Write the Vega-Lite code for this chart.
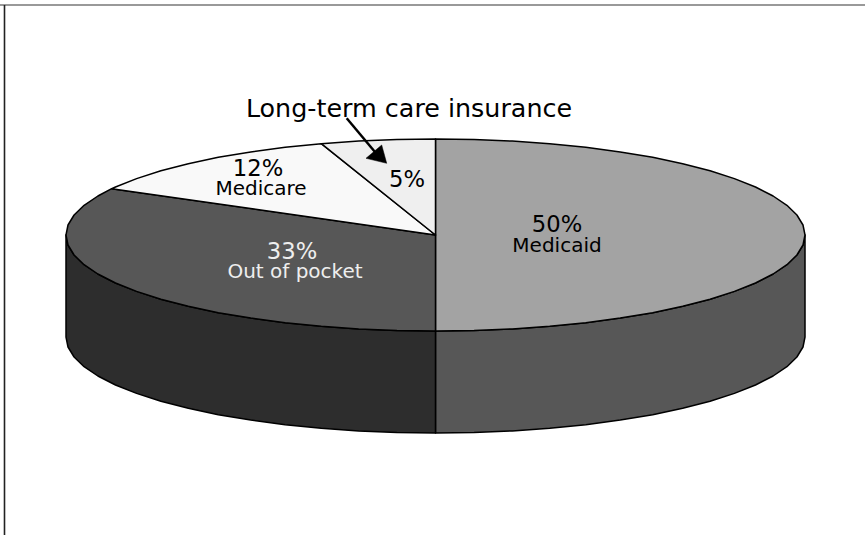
{
  "$schema": "https://vega.github.io/schema/vega-lite/v6.json",
  "width": 865,
  "height": 535,
  "padding": 0,
  "autosize": {"type": "none"},
  "background": "white",
  "view": {"stroke": null},
  "datasets": {
    "frame": [
      {"x": 0, "y": 5, "x2": 865, "y2": 5, "edge": "top"},
      {"x": 4.5, "y": 5, "x2": 4.5, "y2": 535, "edge": "left"}
    ],
    "pie": [
      {"s":"sideRight","i":0,"x":805,"y":235},{"s":"sideRight","i":1,"x":803,"y":245},{"s":"sideRight","i":2,"x":796.9,"y":255},{"s":"sideRight","i":3,"x":786.9,"y":264.7},{"s":"sideRight","i":4,"x":773.1,"y":274},{"s":"sideRight","i":5,"x":755.5,"y":283},{"s":"sideRight","i":6,"x":734.4,"y":291.4},{"s":"sideRight","i":7,"x":710.1,"y":299.2},{"s":"sideRight","i":8,"x":682.7,"y":306.3},{"s":"sideRight","i":9,"x":652.7,"y":312.7},{"s":"sideRight","i":10,"x":620.25,"y":318.1},{"s":"sideRight","i":11,"x":585.8,"y":322.7},{"s":"sideRight","i":12,"x":549.7,"y":326.3},{"s":"sideRight","i":13,"x":512.3,"y":328.9},{"s":"sideRight","i":14,"x":474.1,"y":330.5},{"s":"sideRight","i":15,"x":435.5,"y":331},
      {"s":"sideRight","i":16,"x":435.5,"y":433},{"s":"sideRight","i":17,"x":474.1,"y":432.5},{"s":"sideRight","i":18,"x":512.3,"y":430.9},{"s":"sideRight","i":19,"x":549.7,"y":428.3},{"s":"sideRight","i":20,"x":585.8,"y":424.7},{"s":"sideRight","i":21,"x":620.25,"y":420.1},{"s":"sideRight","i":22,"x":652.7,"y":414.7},{"s":"sideRight","i":23,"x":682.7,"y":408.3},{"s":"sideRight","i":24,"x":710.1,"y":401.2},{"s":"sideRight","i":25,"x":734.4,"y":393.4},{"s":"sideRight","i":26,"x":755.5,"y":385},{"s":"sideRight","i":27,"x":773.1,"y":376},{"s":"sideRight","i":28,"x":786.9,"y":366.7},{"s":"sideRight","i":29,"x":796.9,"y":357},{"s":"sideRight","i":30,"x":803,"y":347},{"s":"sideRight","i":31,"x":805,"y":337},

      {"s":"sideLeft","i":0,"x":435.5,"y":331},{"s":"sideLeft","i":1,"x":396.9,"y":330.5},{"s":"sideLeft","i":2,"x":358.7,"y":328.9},{"s":"sideLeft","i":3,"x":321.3,"y":326.3},{"s":"sideLeft","i":4,"x":285.2,"y":322.7},{"s":"sideLeft","i":5,"x":250.75,"y":318.1},{"s":"sideLeft","i":6,"x":218.3,"y":312.7},{"s":"sideLeft","i":7,"x":188.3,"y":306.3},{"s":"sideLeft","i":8,"x":160.9,"y":299.2},{"s":"sideLeft","i":9,"x":136.6,"y":291.4},{"s":"sideLeft","i":10,"x":115.5,"y":283},{"s":"sideLeft","i":11,"x":97.9,"y":274},{"s":"sideLeft","i":12,"x":84.1,"y":264.7},{"s":"sideLeft","i":13,"x":74.1,"y":255},{"s":"sideLeft","i":14,"x":68,"y":245},{"s":"sideLeft","i":15,"x":66,"y":235},
      {"s":"sideLeft","i":16,"x":66,"y":337},{"s":"sideLeft","i":17,"x":68,"y":347},{"s":"sideLeft","i":18,"x":74.1,"y":357},{"s":"sideLeft","i":19,"x":84.1,"y":366.7},{"s":"sideLeft","i":20,"x":97.9,"y":376},{"s":"sideLeft","i":21,"x":115.5,"y":385},{"s":"sideLeft","i":22,"x":136.6,"y":393.4},{"s":"sideLeft","i":23,"x":160.9,"y":401.2},{"s":"sideLeft","i":24,"x":188.3,"y":408.3},{"s":"sideLeft","i":25,"x":218.3,"y":414.7},{"s":"sideLeft","i":26,"x":250.75,"y":420.1},{"s":"sideLeft","i":27,"x":285.2,"y":424.7},{"s":"sideLeft","i":28,"x":321.3,"y":428.3},{"s":"sideLeft","i":29,"x":358.7,"y":430.9},{"s":"sideLeft","i":30,"x":396.9,"y":432.5},{"s":"sideLeft","i":31,"x":435.5,"y":433},

      {"s":"Medicaid","i":0,"x":435.5,"y":235},{"s":"Medicaid","i":1,"x":435.5,"y":139},{"s":"Medicaid","i":2,"x":474.1,"y":139.5},{"s":"Medicaid","i":3,"x":512.3,"y":141.1},{"s":"Medicaid","i":4,"x":549.7,"y":143.7},{"s":"Medicaid","i":5,"x":585.8,"y":147.3},{"s":"Medicaid","i":6,"x":620.25,"y":151.9},{"s":"Medicaid","i":7,"x":652.7,"y":157.3},{"s":"Medicaid","i":8,"x":682.7,"y":163.7},{"s":"Medicaid","i":9,"x":710.1,"y":170.8},{"s":"Medicaid","i":10,"x":734.4,"y":178.6},{"s":"Medicaid","i":11,"x":755.5,"y":187},{"s":"Medicaid","i":12,"x":773.1,"y":196},{"s":"Medicaid","i":13,"x":786.9,"y":205.3},{"s":"Medicaid","i":14,"x":796.9,"y":215},{"s":"Medicaid","i":15,"x":803,"y":225},{"s":"Medicaid","i":16,"x":805,"y":235},{"s":"Medicaid","i":17,"x":803,"y":245},{"s":"Medicaid","i":18,"x":796.9,"y":255},{"s":"Medicaid","i":19,"x":786.9,"y":264.7},{"s":"Medicaid","i":20,"x":773.1,"y":274},{"s":"Medicaid","i":21,"x":755.5,"y":283},{"s":"Medicaid","i":22,"x":734.4,"y":291.4},{"s":"Medicaid","i":23,"x":710.1,"y":299.2},{"s":"Medicaid","i":24,"x":682.7,"y":306.3},{"s":"Medicaid","i":25,"x":652.7,"y":312.7},{"s":"Medicaid","i":26,"x":620.25,"y":318.1},{"s":"Medicaid","i":27,"x":585.8,"y":322.7},{"s":"Medicaid","i":28,"x":549.7,"y":326.3},{"s":"Medicaid","i":29,"x":512.3,"y":328.9},{"s":"Medicaid","i":30,"x":474.1,"y":330.5},{"s":"Medicaid","i":31,"x":435.5,"y":331},

      {"s":"Out of pocket","i":0,"x":435.5,"y":235},{"s":"Out of pocket","i":1,"x":435.5,"y":331},{"s":"Out of pocket","i":2,"x":396.9,"y":330.5},{"s":"Out of pocket","i":3,"x":358.7,"y":328.9},{"s":"Out of pocket","i":4,"x":321.3,"y":326.3},{"s":"Out of pocket","i":5,"x":285.2,"y":322.7},{"s":"Out of pocket","i":6,"x":250.75,"y":318.1},{"s":"Out of pocket","i":7,"x":218.3,"y":312.7},{"s":"Out of pocket","i":8,"x":188.3,"y":306.3},{"s":"Out of pocket","i":9,"x":160.9,"y":299.2},{"s":"Out of pocket","i":10,"x":136.6,"y":291.4},{"s":"Out of pocket","i":11,"x":115.5,"y":283},{"s":"Out of pocket","i":12,"x":97.9,"y":274},{"s":"Out of pocket","i":13,"x":84.1,"y":264.7},{"s":"Out of pocket","i":14,"x":74.1,"y":255},{"s":"Out of pocket","i":15,"x":68,"y":245},{"s":"Out of pocket","i":16,"x":66,"y":235},{"s":"Out of pocket","i":17,"x":68,"y":225},{"s":"Out of pocket","i":18,"x":74.1,"y":215},{"s":"Out of pocket","i":19,"x":84.1,"y":205.3},{"s":"Out of pocket","i":20,"x":97.9,"y":196},{"s":"Out of pocket","i":21,"x":111.7,"y":188.7},

      {"s":"Medicare","i":0,"x":435.5,"y":235},{"s":"Medicare","i":1,"x":111.7,"y":188.7},{"s":"Medicare","i":2,"x":115.5,"y":187},{"s":"Medicare","i":3,"x":136.6,"y":178.6},{"s":"Medicare","i":4,"x":160.9,"y":170.8},{"s":"Medicare","i":5,"x":188.3,"y":163.7},{"s":"Medicare","i":6,"x":218.3,"y":157.3},{"s":"Medicare","i":7,"x":250.75,"y":151.9},{"s":"Medicare","i":8,"x":285.2,"y":147.3},{"s":"Medicare","i":9,"x":321.3,"y":143.7},

      {"s":"Long-term care insurance","i":0,"x":435.5,"y":235},{"s":"Long-term care insurance","i":1,"x":321.3,"y":143.7},{"s":"Long-term care insurance","i":2,"x":358.7,"y":141.1},{"s":"Long-term care insurance","i":3,"x":396.9,"y":139.5},{"s":"Long-term care insurance","i":4,"x":435.5,"y":139}
    ],
    "pointer": [
      {"s":"head","i":0,"x":386.7,"y":163.3},{"s":"head","i":1,"x":366,"y":158.3},{"s":"head","i":2,"x":381.7,"y":145}
    ],
    "shaft": [
      {"x":346.7,"y":118.3,"x2":375,"y2":152}
    ],
    "labels": [
      {"t":"Long-term care insurance","x":409,"y":117,"size":"callout","tone":"dark"},
      {"t":"50%","x":557,"y":232,"size":"value","tone":"dark"},
      {"t":"Medicaid","x":557,"y":252,"size":"name","tone":"dark"},
      {"t":"33%","x":292,"y":259,"size":"value","tone":"light"},
      {"t":"Out of pocket","x":295,"y":278,"size":"name","tone":"light"},
      {"t":"12%","x":258,"y":176,"size":"value","tone":"dark"},
      {"t":"Medicare","x":261,"y":195,"size":"name","tone":"dark"},
      {"t":"5%","x":407,"y":187,"size":"value","tone":"dark"}
    ]
  },
  "layer": [
    {
      "data": {"name": "frame"},
      "mark": {"type": "rule", "strokeWidth": 1.6},
      "encoding": {
        "x": {"field": "x", "type": "quantitative", "scale": {"domain": [0, 865], "range": [0, 865]}, "axis": null},
        "y": {"field": "y", "type": "quantitative", "scale": {"domain": [0, 535], "range": [0, 535]}, "axis": null},
        "x2": {"field": "x2"},
        "y2": {"field": "y2"},
        "stroke": {"field": "edge", "type": "nominal", "scale": {"domain": ["top", "left"], "range": ["#777777", "#222222"]}, "legend": null}
      }
    },
    {
      "data": {"name": "pie"},
      "mark": {"type": "line", "interpolate": "linear-closed", "stroke": "black", "strokeWidth": 1.5, "strokeJoin": "round"},
      "encoding": {
        "x": {"field": "x", "type": "quantitative", "scale": {"domain": [0, 865], "range": [0, 865]}, "axis": null},
        "y": {"field": "y", "type": "quantitative", "scale": {"domain": [0, 535], "range": [0, 535]}, "axis": null},
        "order": {"field": "i", "type": "quantitative"},
        "fill": {
          "field": "s",
          "type": "nominal",
          "scale": {
            "domain": ["sideRight", "sideLeft", "Medicaid", "Out of pocket", "Medicare", "Long-term care insurance"],
            "range": ["#575757", "#2d2d2d", "#a3a3a3", "#575757", "#f9f9f9", "#efefef"]
          },
          "legend": null
        }
      }
    },
    {
      "data": {"name": "shaft"},
      "mark": {"type": "rule", "stroke": "black", "strokeWidth": 2.5},
      "encoding": {
        "x": {"field": "x", "type": "quantitative", "scale": {"domain": [0, 865], "range": [0, 865]}, "axis": null},
        "y": {"field": "y", "type": "quantitative", "scale": {"domain": [0, 535], "range": [0, 535]}, "axis": null},
        "x2": {"field": "x2"},
        "y2": {"field": "y2"}
      }
    },
    {
      "data": {"name": "pointer"},
      "mark": {"type": "line", "interpolate": "linear-closed", "stroke": "black", "fill": "black", "strokeWidth": 0.5},
      "encoding": {
        "x": {"field": "x", "type": "quantitative", "scale": {"domain": [0, 865], "range": [0, 865]}, "axis": null},
        "y": {"field": "y", "type": "quantitative", "scale": {"domain": [0, 535], "range": [0, 535]}, "axis": null},
        "order": {"field": "i", "type": "quantitative"}
      }
    },
    {
      "data": {"name": "labels"},
      "mark": {"type": "text", "align": "center", "baseline": "alphabetic", "font": "DejaVu Sans"},
      "encoding": {
        "x": {"field": "x", "type": "quantitative", "scale": {"domain": [0, 865], "range": [0, 865]}, "axis": null},
        "y": {"field": "y", "type": "quantitative", "scale": {"domain": [0, 535], "range": [0, 535]}, "axis": null},
        "text": {"field": "t"},
        "size": {"field": "size", "type": "nominal", "scale": {"domain": ["callout", "value", "name"], "range": [25.4, 20, 18.3]}, "legend": null},
        "color": {"field": "tone", "type": "nominal", "scale": {"domain": ["dark", "light"], "range": ["#000000", "#eeeeee"]}, "legend": null}
      }
    }
  ]
}
